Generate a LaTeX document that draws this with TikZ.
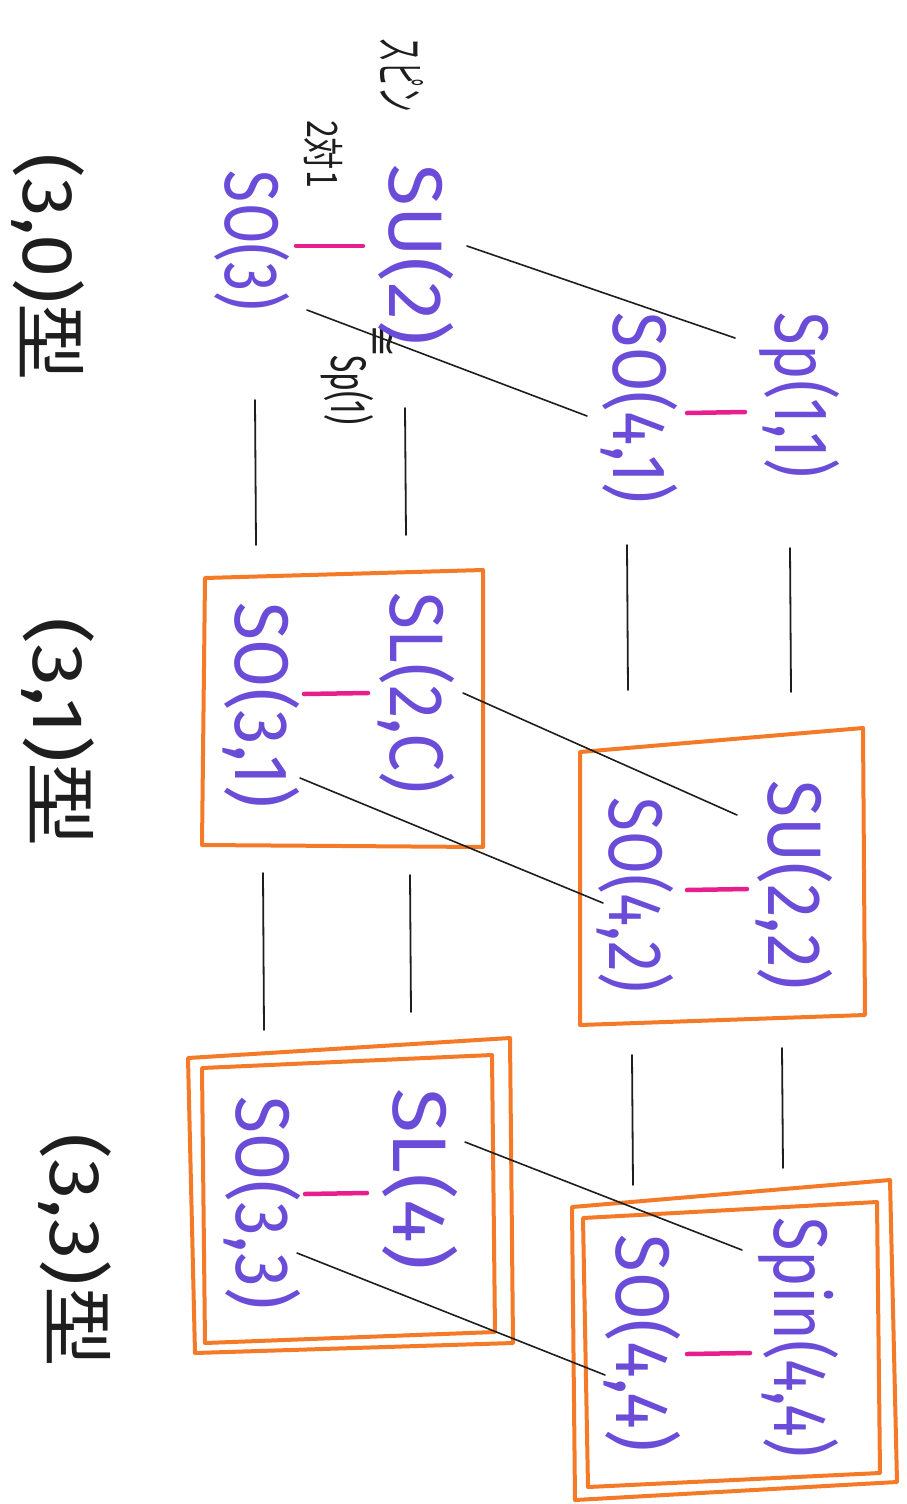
\documentclass[tikz,border=0pt]{standalone}
\usepackage{fontspec}
\usepackage{graphicx}
\setmainfont{Fira Sans}
\newfontfamily\cjk{Noto Sans CJK JP}
\newfontfamily\symf{DejaVu Sans}
\definecolor{pen}{RGB}{106,76,216}
\definecolor{hl}{RGB}{244,122,40}
\definecolor{mk}{RGB}{232,30,140}
\definecolor{ink}{RGB}{30,30,30}
% stretch a label along its reading direction to a given length (pt)
\newcommand\fitlen[2]{\resizebox{#1pt}{\height}{#2}}
\tikzset{
  grp/.style={rotate=-90, inner sep=0pt, text=pen, font=\fontsize{76}{80}\selectfont},
  lbl/.style={rotate=-90, inner sep=0pt, text=ink, font=\fontsize{72}{80}\selectfont},
  note/.style={rotate=-90, inner sep=0pt, text=ink, font=\fontsize{50}{52}\selectfont},
  link/.style={draw=ink, line width=1.6pt, line cap=round},
  tie/.style={draw=ink, line width=1.8pt, line cap=round},
  pair/.style={draw=mk, line width=4.5pt, line cap=round},
  frame/.style={draw=hl, line width=4pt, line join=round},
}
\begin{document}
\begin{tikzpicture}[x=1pt,y=-1pt]
\useasboundingbox[fill=white] (0,0) rectangle (907,1504);

% ---- column headings
\node[lbl] (t30) at (48,267) {\fitlen{227}{(3,0){\cjk 型}}};
\node[lbl] (t31) at (58,732) {\fitlen{230}{(3,1){\cjk 型}}};
\node[lbl] (t33) at (75,1250) {\fitlen{234}{(3,3){\cjk 型}}};

% ---- small notes
\node[note, font=\fontsize{52}{54}\selectfont] (spinnote) at (402,75) {\fitlen{74}{\cjk スピン}};
\node[note, font=\fontsize{42}{44}\selectfont] (twoone) at (323,154) {\fitlen{68}{\cjk 2対1}};
\node[note, font=\fontsize{40}{44}\selectfont] (isosym) at (381,341) {\symf ≅};
\node[note] (sp1) at (347,390) {\fitlen{70}{Sp(1)}};

% ---- boxes
\draw[frame] (205,578) -- (483,570) -- (483,847) -- (202,845) -- cycle;
\draw[frame] (580,752) -- (863,728) -- (865,1015) -- (580,1025) -- cycle;
\draw[frame] (188,1058) -- (510,1038) -- (513,1343) -- (195,1353) -- cycle;
\draw[frame] (202,1068) -- (492,1055) -- (495,1332) -- (205,1343) -- cycle;
\draw[frame] (572,1207) -- (890,1180) -- (897,1482) -- (575,1500) -- cycle;
\draw[frame] (583,1218) -- (877,1202) -- (880,1473) -- (588,1487) -- cycle;

% ---- groups
\node[grp] (su2)    at (416,255)  {\fitlen{180}{SU(2)}};
\node[grp] (so3)    at (252,241)  {\fitlen{140}{SO(3)}};
\node[grp] (sp11)   at (800,395)  {\fitlen{165}{Sp(1,1)}};
\node[grp] (so41)   at (639,408)  {\fitlen{191}{SO(4,1)}};
\node[grp] (sl2c)   at (416,693)  {\fitlen{201}{SL(2,C)}};
\node[grp] (so31)   at (261,705)  {\fitlen{206}{SO(3,1)}};
\node[grp] (su22)   at (794,885)  {\fitlen{210}{SU(2,2)}};
\node[grp] (so42)   at (635,895)  {\fitlen{195}{SO(4,2)}};
\node[grp] (sl4)    at (420,1179) {\fitlen{182}{SL(4)}};
\node[grp] (so33)   at (262,1203) {\fitlen{213}{SO(3,3)}};
\node[grp] (spin44) at (799,1337) {\fitlen{240}{Spin(4,4)}};
\node[grp] (so44)   at (642,1343) {\fitlen{217}{SO(4,4)}};

% ---- connector end points
\coordinate (su2-r)    at (467,246);  \coordinate (sp11-l)   at (735,338);
\coordinate (so3-r)    at (307,310);  \coordinate (so41-l)   at (587,416);
\coordinate (sl2c-r)   at (463,693);  \coordinate (su22-l)   at (737,815);
\coordinate (so31-r)   at (300,778);  \coordinate (so42-l)   at (603,903);
\coordinate (sl4-r)    at (465,1142); \coordinate (spin44-l) at (742,1250);
\coordinate (so33-r)   at (297,1253); \coordinate (so44-l)   at (605,1375);

\draw[link] (su2-r) -- (sp11-l);
\draw[link] (so3-r) -- (so41-l);
\draw[link] (sl2c-r) -- (su22-l);
\draw[link] (so31-r) -- (so42-l);
\draw[link] (sl4-r) -- (spin44-l);
\draw[link] (so33-r) -- (so44-l);

% ---- pairing dashes inside each group
\coordinate (pa1) at (296,246);  \coordinate (pb1) at (363,246);
\coordinate (pa2) at (687,413);  \coordinate (pb2) at (745,412);
\coordinate (pa3) at (304,694);  \coordinate (pb3) at (368,693);
\coordinate (pa4) at (687,890);  \coordinate (pb4) at (747,889);
\coordinate (pa5) at (305,1194); \coordinate (pb5) at (367,1193);
\coordinate (pa6) at (687,1354); \coordinate (pb6) at (750,1353);
\foreach \i in {1,...,6} { \draw[pair] (pa\i) -- (pb\i); }

% ---- ties between neighbouring columns
\coordinate (ta1) at (255,400);  \coordinate (tb1) at (256,545);
\coordinate (ta2) at (405,408);  \coordinate (tb2) at (406,535);
\coordinate (ta3) at (627,545);  \coordinate (tb3) at (628,690);
\coordinate (ta4) at (790,548);  \coordinate (tb4) at (791,692);
\coordinate (ta5) at (263,873);  \coordinate (tb5) at (264,1030);
\coordinate (ta6) at (410,875);  \coordinate (tb6) at (411,1012);
\coordinate (ta7) at (632,1055); \coordinate (tb7) at (633,1185);
\coordinate (ta8) at (782,1048); \coordinate (tb8) at (783,1168);
\foreach \i in {1,...,8} { \draw[tie] (ta\i) -- (tb\i); }
\end{tikzpicture}
\end{document}
